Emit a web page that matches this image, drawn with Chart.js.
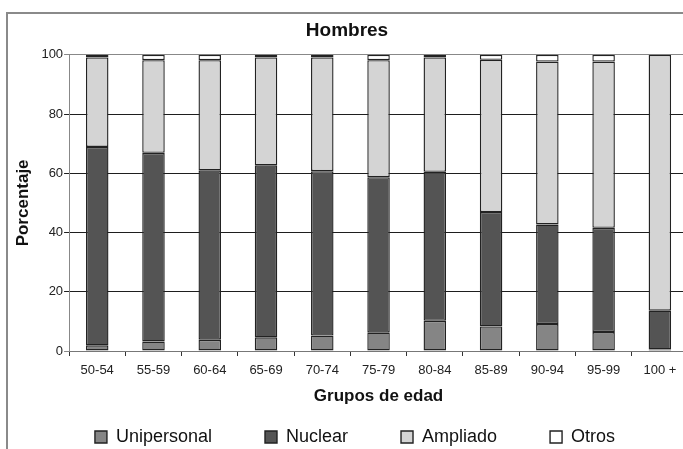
<!DOCTYPE html>
<html>
<head>
<meta charset="utf-8">
<script src="https://cdn.jsdelivr.net/npm/chart.js@4/dist/chart.umd.min.js"></script>
<style>
  html, body { margin: 0; padding: 0; background: #fff; overflow: hidden; }
  .frame { position: absolute; left: 6px; top: 12px; width: 800px; height: 600px;
           border-left: 2px solid #8a8a8a; border-top: 2px solid #8a8a8a; }
  .wrap { position: absolute; left: 0; top: 0; width: 700px; height: 449px; }
</style>
</head>
<body>
<div class="frame"></div>
<div class="wrap"><canvas id="hombresChart"></canvas></div>
<script>
// Hogares por grupo de edad (hombres), % apilado
const grupos = ['50-54', '55-59', '60-64', '65-69', '70-74', '75-79', '80-84', '85-89', '90-94', '95-99', '100 +'];
const unipersonal = [1.9, 3.2, 3.8, 4.6, 5.2, 6.2, 10.2, 8.3, 9.1, 6.4, 0.5];
const nuclear = [67.0, 63.7, 57.2, 58.1, 55.5, 52.5, 50.3, 38.6, 33.6, 35.2, 13.1];
const ampliado = [30.2, 31.3, 37.2, 36.4, 38.4, 39.5, 38.6, 51.4, 55.0, 56.1, 86.4];
const otros = [0.9, 1.8, 1.8, 0.9, 0.9, 1.8, 0.9, 1.7, 2.3, 2.3, 0];
const yTicks = [0, 20, 40, 60, 80, 100];

Chart.defaults.font.family = "'Liberation Sans', Arial, sans-serif";
Chart.defaults.color = '#222';

// wider spacing between legend items without a tall legend box
const LEGEND_PAD = 53;
const legendGap = {
  id: 'legendGap',
  beforeInit(chart) {
    const legend = chart.legend;
    const fit = legend.fit;
    legend.fit = function () { fit.call(this); this.height = 41; };
    const draw = legend.draw;
    legend.draw = function () {
      const { top, left, right } = this;
      this.top = 428 - LEGEND_PAD;
      this.left = left + 8;
      this.right = right + 8;
      draw.call(this);
      Object.assign(this, { top, left, right });
    };
  }
};

const bar = (label, data, color) => ({
  label, data,
  backgroundColor: color,
  borderColor: '#222',
  borderWidth: 1.4,
  borderSkipped: false,
  barPercentage: 0.4,
  categoryPercentage: 1,
});

new Chart(document.getElementById('hombresChart'), {
  type: 'bar',
  data: {
    labels: grupos,
    datasets: [
      bar('Unipersonal', unipersonal, '#858585'),
      bar('Nuclear', nuclear, '#545454'),
      bar('Ampliado', ampliado, '#d4d4d4'),
      bar('Otros', otros, '#ffffff'),
    ],
  },
  options: {
    responsive: true,
    maintainAspectRatio: false,
    animation: false,
    layout: { padding: { top: 10, left: 6, right: 12, bottom: 0 } },
    plugins: {
      title: {
        display: true, text: 'Hombres', color: '#111',
        font: { size: 19, weight: 'bold' },
        padding: { top: 9, bottom: 13 },
      },
      legend: {
        position: 'bottom',
        labels: { boxWidth: 12, boxHeight: 12, padding: LEGEND_PAD, color: '#111', font: { size: 18 } },
      },
      tooltip: { enabled: false },
    },
    scales: {
      x: {
        stacked: true,
        grid: { drawOnChartArea: false, drawTicks: true, tickLength: 5, color: '#333' },
        border: { color: '#777', width: 1 },
        ticks: { padding: 7, color: '#222', font: { size: 13 } },
        title: { display: true, text: 'Grupos de edad', color: '#111',
                 font: { size: 17, weight: 'bold' }, padding: { top: 1, bottom: 1 } },
      },
      y: {
        stacked: true,
        min: 0, max: 100,
        afterBuildTicks: axis => { axis.ticks = yTicks.map(v => ({ value: v })); },
        grid: {
          tickLength: 5,
          color: ctx => (ctx.tick && (ctx.tick.value === 100 || ctx.tick.value === 0)) ? '#888' : '#1e1e1e',
        },
        border: { color: '#888', width: 1 },
        ticks: { padding: 1, color: '#222', font: { size: 13 } },
        title: { display: true, text: 'Porcentaje', color: '#111',
                 font: { size: 17, weight: 'bold' }, padding: { top: 7, bottom: 7 } },
      },
    },
  },
  plugins: [legendGap],
});
</script>
</body>
</html>
